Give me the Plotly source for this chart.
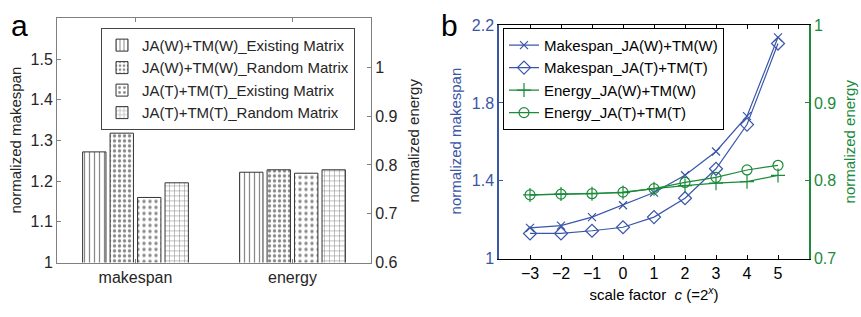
import plotly.graph_objects as go

# ---------- data ----------
# panel a
bar_categories = ["makespan", "energy"]
bar_series = ["JA(W)+TM(W)_Existing Matrix", "JA(W)+TM(W)_Random Matrix",
              "JA(T)+TM(T)_Existing Matrix", "JA(T)+TM(T)_Random Matrix"]
makespan_vals = [1.272, 1.318, 1.160, 1.196]
energy_vals = [0.785, 0.790, 0.783, 0.790]

# panel b
scale_x = [-3, -2, -1, 0, 1, 2, 3, 4, 5]
mk_w = [1.159, 1.170, 1.214, 1.275, 1.340, 1.429, 1.551, 1.732, 2.137]
mk_t = [1.130, 1.130, 1.144, 1.162, 1.214, 1.311, 1.462, 1.689, 2.105]
en_w = [0.782, 0.783, 0.7835, 0.785, 0.790, 0.794, 0.797, 0.799, 0.807]
en_t = [0.782, 0.783, 0.7835, 0.7855, 0.790, 0.798, 0.8045, 0.814, 0.820]
line_names = ["Makespan_JA(W)+TM(W)", "Makespan_JA(T)+TM(T)",
              "Energy_JA(W)+TM(W)", "Energy_JA(T)+TM(T)"]

# ---------- style ----------
FW, FH = 861, 317
DARK = "#262626"
GRAY = "#808080"
BLUE = "#3a56a8"
GREEN = "#1b8a3a"
FONT = "Liberation Sans"
FS = 16
LFS = 15
patterns = [dict(shape="|", size=5, solidity=0.25),
            dict(shape=".", size=5, solidity=0.35),
            dict(shape=".", size=6, solidity=0.25),
            dict(shape="+", size=5, solidity=0.2)]

def px(x):
    return x / FW

def py(y):
    return 1 - y / FH

fig = go.Figure()

for i, name in enumerate(bar_series):
    pat = dict(fgcolor="#111111", bgcolor="white", **patterns[i])
    fig.add_trace(go.Bar(
        x=[bar_categories[0]], y=[makespan_vals[i]], name=name,
        xaxis="x", yaxis="y", offsetgroup=str(i), alignmentgroup="a",
        marker=dict(color="white", pattern=pat, line=dict(color="#333333", width=1)),
        legend="legend", legendgroup=name, showlegend=True))
    fig.add_trace(go.Bar(
        x=[bar_categories[1]], y=[energy_vals[i]], name=name,
        xaxis="x", yaxis="y2", offsetgroup=str(i), alignmentgroup="a",
        marker=dict(color="white", pattern=pat, line=dict(color="#333333", width=1)),
        legend="legend", legendgroup=name, showlegend=False))

line_specs = [
    (mk_w, "y3", BLUE, "x-thin-open", 8),
    (mk_t, "y3", BLUE, "diamond-open", 10),
    (en_w, "y4", GREEN, "cross-thin-open", 10),
    (en_t, "y4", GREEN, "circle-open", 10),
]
for name, (vals, yax, col, sym, sz) in zip(line_names, line_specs):
    fig.add_trace(go.Scatter(
        x=scale_x, y=vals, name=name, xaxis="x2", yaxis=yax,
        mode="lines+markers", line=dict(color=col, width=1.2),
        marker=dict(symbol=sym, size=sz, color=col, line=dict(color=col, width=1.2)),
        legend="legend2"))

tickfont = dict(family=FONT, size=FS, color=DARK)

def ytitle(text, x, y, color):
    return dict(text=text, x=px(x), y=py(y), xref="paper", yref="paper",
                xanchor="center", yanchor="middle", textangle=-90, showarrow=False,
                borderpad=0, font=dict(family=FONT, size=15, color=color))

fig.update_layout(
    width=FW, height=FH,
    margin=dict(l=0, r=0, t=0, b=0),
    paper_bgcolor="white", plot_bgcolor="white",
    font=dict(family=FONT, size=FS, color=DARK),
    barmode="group", bargap=0.3, bargroupgap=0.15,
    xaxis=dict(domain=[px(57), px(371)], anchor="y", showline=True, linecolor=GRAY,
               mirror="ticks", ticks="inside", ticklen=4, tickcolor=GRAY,
               tickfont=tickfont, showgrid=False, range=[-0.5, 1.5]),
    yaxis=dict(domain=[py(269), py(11)], anchor="x", range=[1, 1.6],
               tickvals=[1, 1.1, 1.2, 1.3, 1.4, 1.5],
               ticktext=["1", "1.1", "1.2", "1.3", "1.4", "1.5"],
               showline=True, linecolor=GRAY, ticks="inside", ticklen=4, tickcolor=GRAY,
               showgrid=False, zeroline=False, tickfont=tickfont),
    yaxis2=dict(overlaying="y", side="right", anchor="x", range=[0.6, 1.1],
                tickvals=[0.6, 0.7, 0.8, 0.9, 1.0],
                ticktext=["0.6", "0.7", "0.8", "0.9", "1"],
                showline=True, linecolor=GRAY, ticks="inside", ticklen=4, tickcolor=GRAY,
                showgrid=False, zeroline=False, tickfont=tickfont),
    xaxis2=dict(domain=[px(499), px(809)], anchor="y3", range=[-4, 6],
                tickvals=scale_x, ticktext=[("−" + str(-v)) if v < 0 else str(v) for v in scale_x],
                showline=True, linecolor="black", mirror="ticks", ticks="inside", ticklen=4,
                tickcolor="black", showgrid=False, zeroline=False,
                tickfont=dict(family=FONT, size=FS, color="black"),
                title=dict(text="scale factor  <i>c</i> (=2<sup><i>x</i></sup>)",
                           font=dict(size=15, color="black"), standoff=8)),
    yaxis3=dict(domain=[py(265), py(18)], anchor="x2", range=[1, 2.2],
                tickvals=[1, 1.4, 1.8, 2.2], ticktext=["1", "1.4", "1.8", "2.2"],
                showline=True, linecolor=BLUE, linewidth=1.5, ticks="inside", ticklen=4,
                tickcolor=BLUE, showgrid=False, zeroline=False,
                tickfont=dict(family=FONT, size=FS, color=BLUE)),
    yaxis4=dict(overlaying="y3", side="right", anchor="x2", range=[0.7, 1.0],
                tickvals=[0.7, 0.8, 0.9, 1.0], ticktext=["0.7", "0.8", "0.9", "1"],
                showline=True, linecolor=GREEN, linewidth=1.5, ticks="inside", ticklen=4,
                tickcolor=GREEN, showgrid=False, zeroline=False,
                tickfont=dict(family=FONT, size=FS, color=GREEN)),
    legend=dict(x=px(101), y=py(21), xanchor="left", yanchor="top",
                bgcolor="white", bordercolor="#444444", borderwidth=1,
                font=dict(family=FONT, size=LFS, color=DARK), tracegroupgap=0,
                itemwidth=30),
    legend2=dict(x=px(503), y=py(21), xanchor="left", yanchor="top",
                 bgcolor="white", bordercolor="black", borderwidth=1,
                 font=dict(family=FONT, size=LFS, color="black"), tracegroupgap=0,
                 itemwidth=30),
    annotations=[
        dict(text="a", x=px(10), y=1, xref="paper", yref="paper",
             xanchor="left", yanchor="top", showarrow=False, borderpad=0,
             font=dict(family=FONT, size=30, color="black")),
        dict(text="b", x=px(440), y=1, xref="paper", yref="paper",
             xanchor="left", yanchor="top", showarrow=False, borderpad=0,
             font=dict(family=FONT, size=30, color="black")),
        ytitle("normalized makespan", 15, 140, DARK),
        ytitle("normalized energy", 413, 140, DARK),
        ytitle("normalized makespan", 455, 141, BLUE),
        ytitle("normalized energy", 849, 141, GREEN),
    ],
)

# remove the default page margin so the figure fills the window exactly
fig.write_html("out.html", config={"displayModeBar": False},
               post_script="document.body.style.margin='0px';")
